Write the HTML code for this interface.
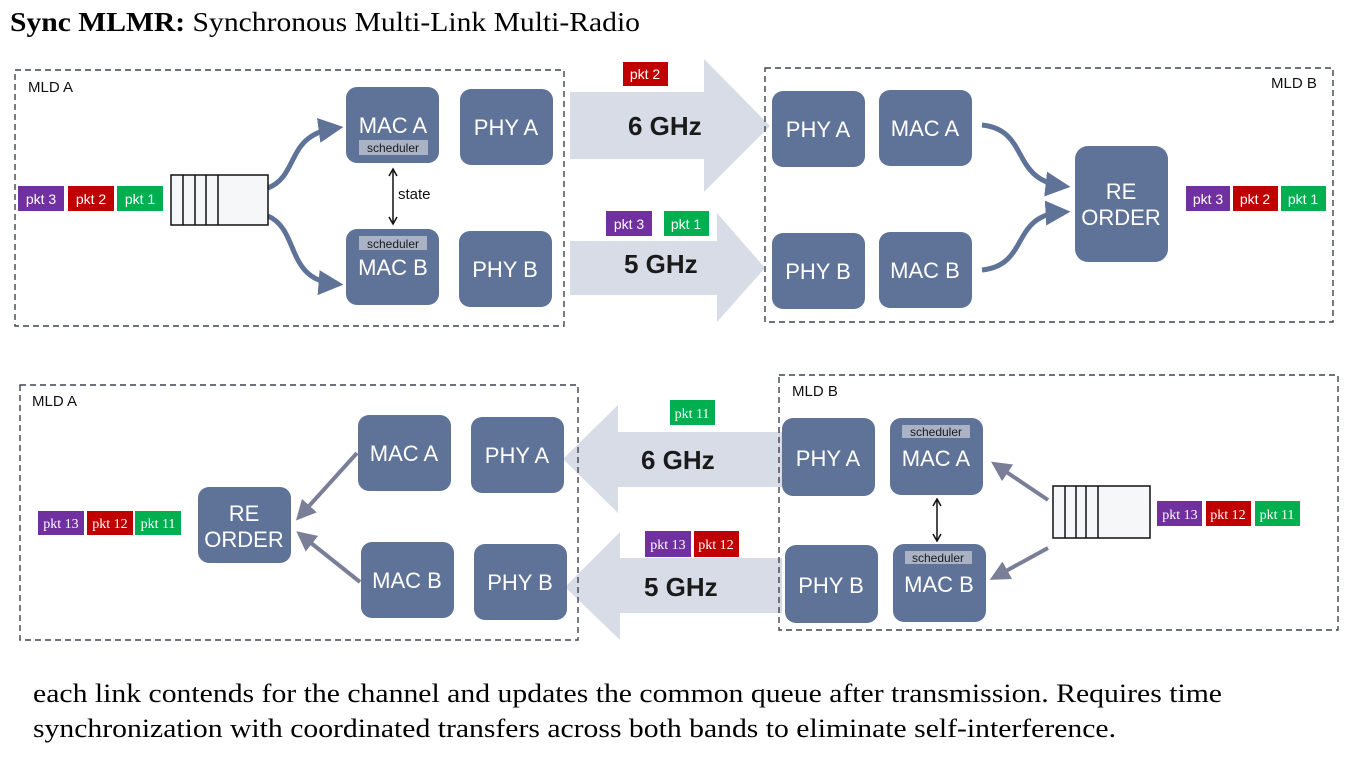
<!DOCTYPE html>
<html><head><meta charset="utf-8"><style>
html,body{margin:0;padding:0;background:#fff;width:1359px;height:759px;overflow:hidden}
svg text{font-family:"Liberation Sans",sans-serif}
.s{font-family:"Liberation Serif",serif !important}
</style></head><body>
<svg width="1359" height="759" viewBox="0 0 1359 759" xmlns="http://www.w3.org/2000/svg">
<defs>
<marker id="ah" markerWidth="5" markerHeight="5" refX="3.5" refY="2.5" orient="auto" markerUnits="strokeWidth"><path d="M0,0 L5,2.5 L0,5 z" fill="#5f7297"/></marker>
<marker id="ah2" markerWidth="5" markerHeight="5" refX="3.5" refY="2.5" orient="auto" markerUnits="strokeWidth"><path d="M0,0 L5,2.5 L0,5 z" fill="#7a7f97"/></marker>
<marker id="bk" markerWidth="10" markerHeight="10" refX="8" refY="5" orient="auto" markerUnits="userSpaceOnUse"><path d="M1,1 L8,5 L1,9" fill="none" stroke="#111" stroke-width="1.5"/></marker>
<marker id="bks" markerWidth="10" markerHeight="10" refX="2" refY="5" orient="auto" markerUnits="userSpaceOnUse"><path d="M9,1 L2,5 L9,9" fill="none" stroke="#111" stroke-width="1.5"/></marker>
</defs>
<text x="10" y="31" class="s" font-size="27" textLength="630" lengthAdjust="spacingAndGlyphs"><tspan font-weight="bold">Sync MLMR:</tspan> Synchronous Multi-Link Multi-Radio</text>

<g fill="#d8dce6">
<polygon points="570,92 704,92 704,59 770,126 704,192 704,159 570,159"/>
<polygon points="570,241 717,241 717,213 765,268 717,322 717,295 570,295"/>
<polygon points="782,432 618,432 618,405 563,459 618,513 618,487 782,487"/>
<polygon points="782,558 620,558 620,532 565,587 620,640 620,613 782,613"/>
</g>
<g font-size="26" font-weight="bold" fill="#1a1a1a">
<text x="628" y="135">6 GHz</text><text x="624" y="273">5 GHz</text>
<text x="641" y="469">6 GHz</text><text x="644" y="596">5 GHz</text>
</g>

<g fill="none" stroke="#3f4350" stroke-width="1.4" stroke-dasharray="6,4">
<rect x="15" y="70" width="549" height="256"/>
<rect x="765" y="68" width="568" height="254"/>
<rect x="20" y="385" width="558" height="255"/>
<rect x="779" y="375" width="559" height="255"/>
</g>
<g font-size="15" fill="#111">
<text x="28" y="92">MLD A</text><text x="1271" y="88">MLD B</text>
<text x="32" y="406">MLD A</text><text x="792" y="396">MLD B</text>
</g>

<g fill="#5f7297">
<rect x="346" y="87" width="93" height="76" rx="11"/>
<rect x="460" y="89" width="93" height="76" rx="11"/>
<rect x="346" y="229" width="93" height="76" rx="11"/>
<rect x="459" y="231" width="93" height="76" rx="11"/>
<rect x="772" y="91" width="93" height="76" rx="11"/>
<rect x="879" y="90" width="93" height="76" rx="11"/>
<rect x="772" y="233" width="93" height="76" rx="11"/>
<rect x="879" y="232" width="93" height="76" rx="11"/>
<rect x="1075" y="146" width="93" height="116" rx="13"/>
<rect x="358" y="415" width="93" height="76" rx="11"/>
<rect x="471" y="417" width="93" height="76" rx="11"/>
<rect x="361" y="542" width="93" height="76" rx="11"/>
<rect x="474" y="544" width="93" height="76" rx="11"/>
<rect x="198" y="487" width="93" height="76" rx="11"/>
<rect x="782" y="418" width="93" height="78" rx="11"/>
<rect x="890" y="418" width="93" height="77" rx="11"/>
<rect x="785" y="545" width="93" height="78" rx="11"/>
<rect x="893" y="544" width="93" height="78" rx="11"/>
</g>
<g fill="#aab3c6">
<rect x="359" y="140" width="69" height="15"/><rect x="359" y="236" width="68" height="14"/>
<rect x="902" y="425" width="68" height="13"/><rect x="905" y="551" width="67" height="13"/>
</g>
<g font-size="12" fill="#1a1a1a" text-anchor="middle">
<text x="393" y="152">scheduler</text><text x="393" y="248">scheduler</text>
<text x="936" y="436">scheduler</text><text x="938" y="562">scheduler</text>
</g>
<g font-size="22" fill="#fff" text-anchor="middle">
<text x="393" y="133">MAC A</text><text x="506" y="135">PHY A</text>
<text x="393" y="275">MAC B</text><text x="505" y="277">PHY B</text>
<text x="818" y="137">PHY A</text><text x="925" y="136">MAC A</text>
<text x="818" y="279">PHY B</text><text x="925" y="278">MAC B</text>
<text x="1121" y="199">RE</text><text x="1121" y="225">ORDER</text>
<text x="404" y="461">MAC A</text><text x="517" y="463">PHY A</text>
<text x="407" y="588">MAC B</text><text x="520" y="590">PHY B</text>
<text x="244" y="521">RE</text><text x="244" y="547">ORDER</text>
<text x="828" y="466">PHY A</text><text x="936" y="466">MAC A</text>
<text x="831" y="593">PHY B</text><text x="939" y="592">MAC B</text>
</g>

<g fill="none" stroke="#5f7297" stroke-width="5">
<path d="M268,188 C300,175 285,135 336,128" marker-end="url(#ah)"/>
<path d="M268,216 C300,230 285,280 336,284" marker-end="url(#ah)"/>
<path d="M982,125 C1030,130 1010,180 1063,186" marker-end="url(#ah)"/>
<path d="M982,270 C1030,265 1010,215 1063,212" marker-end="url(#ah)"/>
</g>
<g fill="none" stroke="#7a7f97" stroke-width="4">
<path d="M357,453 L300,516" marker-end="url(#ah2)"/>
<path d="M360,582 L301,535" marker-end="url(#ah2)"/>
<path d="M1048,500 L996,465" marker-end="url(#ah2)"/>
<path d="M1048,548 L995,577" marker-end="url(#ah2)"/>
</g>
<g stroke="#111" stroke-width="1.5">
<line x1="393" y1="169" x2="393" y2="224" marker-end="url(#bk)" marker-start="url(#bks)"/>
<line x1="937" y1="499" x2="937" y2="541" marker-end="url(#bk)" marker-start="url(#bks)"/>
</g>
<text x="398" y="199" font-size="15" fill="#111">state</text>

<g fill="#f6f7f9" stroke="#111" stroke-width="1.5">
<rect x="171" y="175" width="97" height="50"/>
<path d="M183,175V225M195,175V225M206,175V225M218,175V225" fill="none"/>
<rect x="1053" y="486" width="97" height="52"/>
<path d="M1065,486V538M1076,486V538M1086,486V538M1098,486V538" fill="none"/>
</g>

<g>
<rect x="18" y="186" width="46" height="25" fill="#7030a0"/><rect x="68" y="186" width="46" height="25" fill="#c00000"/><rect x="117" y="186" width="46" height="25" fill="#00b050"/>
<rect x="1186" y="186" width="44" height="25" fill="#7030a0"/><rect x="1233" y="186" width="45" height="25" fill="#c00000"/><rect x="1281" y="186" width="45" height="25" fill="#00b050"/>
<rect x="623" y="62" width="45" height="24" fill="#c00000"/>
<rect x="606" y="211" width="46" height="25" fill="#7030a0"/><rect x="664" y="211" width="45" height="25" fill="#00b050"/>
</g>
<g font-size="14" fill="#fff" text-anchor="middle">
<text x="41" y="204">pkt 3</text><text x="91" y="204">pkt 2</text><text x="140" y="204">pkt 1</text>
<text x="1208" y="204">pkt 3</text><text x="1255" y="204">pkt 2</text><text x="1303" y="204">pkt 1</text>
<text x="645" y="79">pkt 2</text>
<text x="629" y="229">pkt 3</text><text x="686" y="229">pkt 1</text>
</g>
<g>
<rect x="38" y="511" width="46" height="24" fill="#7030a0"/><rect x="87" y="511" width="46" height="24" fill="#c00000"/><rect x="135" y="511" width="46" height="24" fill="#00b050"/>
<rect x="1157" y="501" width="45" height="25" fill="#7030a0"/><rect x="1206" y="501" width="45" height="25" fill="#c00000"/><rect x="1255" y="501" width="45" height="25" fill="#00b050"/>
<rect x="670" y="400" width="45" height="25" fill="#00b050"/>
<rect x="645" y="531" width="46" height="26" fill="#7030a0"/><rect x="694" y="531" width="45" height="26" fill="#c00000"/>
</g>
<g font-size="14" fill="#fff" text-anchor="middle">
<text class="s" x="61" y="528">pkt 13</text><text class="s" x="110" y="528">pkt 12</text><text class="s" x="158" y="528">pkt 11</text>
<text class="s" x="1180" y="519">pkt 13</text><text class="s" x="1228" y="519">pkt 12</text><text class="s" x="1277" y="519">pkt 11</text>
<text class="s" x="692" y="418">pkt 11</text>
<text class="s" x="668" y="549">pkt 13</text><text class="s" x="716" y="549">pkt 12</text>
</g>

<text class="s" x="33" y="702" font-size="26" textLength="1189" lengthAdjust="spacingAndGlyphs">each link contends for the channel and updates the common queue after transmission. Requires time</text>
<text class="s" x="33" y="737" font-size="26" textLength="1083" lengthAdjust="spacingAndGlyphs">synchronization with coordinated transfers across both bands to eliminate self-interference.</text>
</svg>
</body></html>
